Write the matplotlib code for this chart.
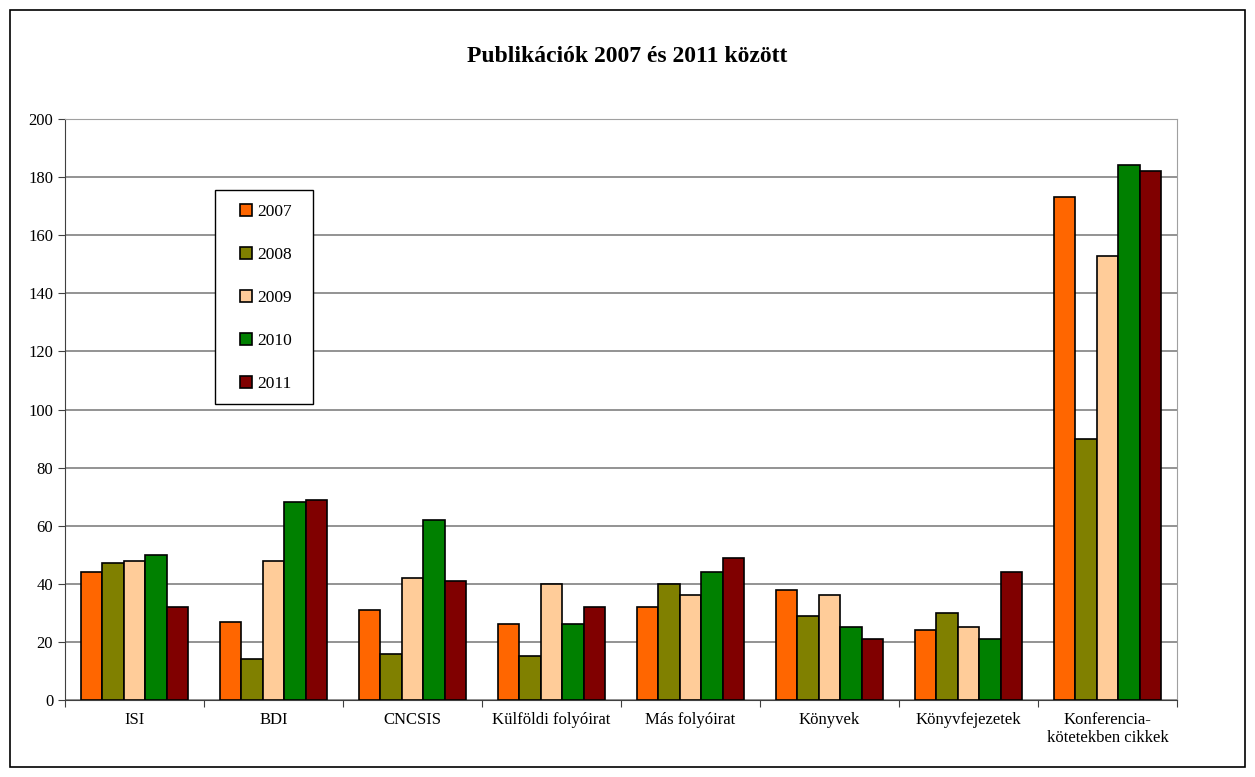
import numpy as np
import matplotlib
matplotlib.use("Agg")
import matplotlib.pyplot as plt
from matplotlib.patches import Rectangle

plt.rcParams['font.family'] = ['Liberation Serif', 'DejaVu Serif']

categories = ["ISI", "BDI", "CNCSIS", "Külföldi folyóirat", "Más folyóirat",
              "Könyvek", "Könyvfejezetek", "Konferencia-\nkötetekben cikkek"]
years = ["2007", "2008", "2009", "2010", "2011"]
v2007 = [44, 27, 31, 26, 32, 38, 24, 173]
v2008 = [47, 14, 16, 15, 40, 29, 30, 90]
v2009 = [48, 48, 42, 40, 36, 36, 25, 153]
v2010 = [50, 68, 62, 26, 44, 25, 21, 184]
v2011 = [32, 69, 41, 32, 49, 21, 44, 182]
series = [v2007, v2008, v2009, v2010, v2011]
colors = ["#ff6600", "#808000", "#ffcc99", "#008000", "#800000"]

W, H = 1255, 777
fig = plt.figure(figsize=(W / 100, H / 100), dpi=100)
ax = fig.add_axes([65 / W, 1 - 700 / H, (1177 - 65) / W, (700 - 119) / H])

# outer chart border
fig.patches.append(Rectangle((10 / W, 10 / H), 1235 / W, 757 / H,
                             transform=fig.transFigure, fill=False,
                             edgecolor="black", linewidth=1.2))

x = np.arange(len(categories))
w = 0.154
for i, (vals, c, y) in enumerate(zip(series, colors, years)):
    ax.bar(x + (i - 2) * w, vals, w, color=c, edgecolor="black",
           linewidth=1.2, label=y, zorder=3)

ax.set_xlim(-0.5, len(categories) - 0.5)
ax.set_ylim(0, 200)
ax.set_yticks(range(0, 201, 20))
ax.yaxis.grid(True, color="#808080", linewidth=1.2, zorder=0)
ax.set_xticks(np.arange(-0.5, len(categories), 1))
ax.set_xticklabels([])
ax.set_xticks(x, minor=True)
ax.set_xticklabels(categories, minor=True, fontsize=12, linespacing=1.1)
ax.tick_params(axis="x", which="minor", length=0, pad=9)
ax.tick_params(axis="x", which="major", length=5, direction="out", color="#404040")
ax.tick_params(axis="y", length=5, labelsize=12, color="#404040")

for s in ["left", "bottom"]:
    ax.spines[s].set_color("#404040")
for s in ["top", "right"]:
    ax.spines[s].set_color("#a0a0a0")

fig.text(0.5, 1 - 56 / H, "Publikációk 2007 és 2011 között",
         ha="center", va="center", fontsize=17, fontweight="bold")

# legend box drawn separately so its size matches the reference
ax.add_patch(Rectangle((215 / W, 1 - 404 / H), 98 / W, 214 / H,
                       transform=fig.transFigure, facecolor="white",
                       edgecolor="black", linewidth=1.0, zorder=4,
                       clip_on=False))
leg = ax.legend(loc="upper left", bbox_to_anchor=(240 / W, 1 - 204 / H),
                bbox_transform=fig.transFigure, fontsize=12.5, frameon=False,
                labelspacing=1.55, handlelength=0.7, handleheight=0.7,
                handletextpad=0.3, borderpad=0, borderaxespad=0)
leg.set_zorder(5)

fig.savefig("out.png", dpi=100)
